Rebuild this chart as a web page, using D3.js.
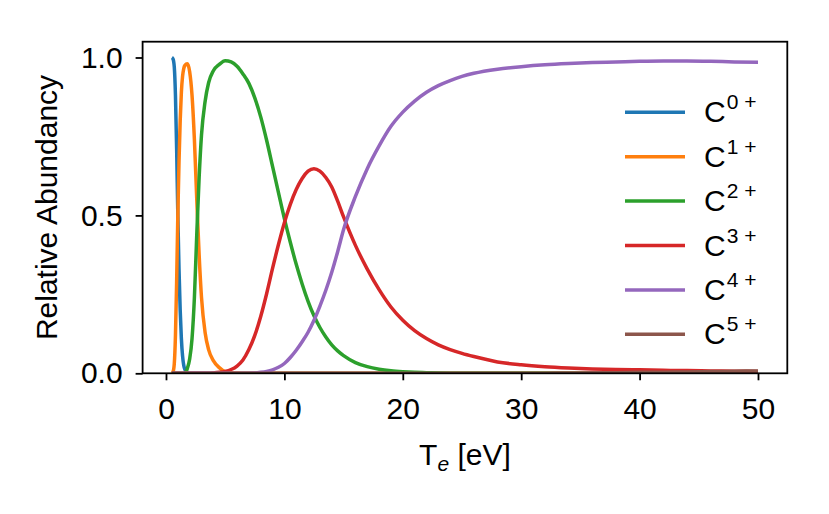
<!DOCTYPE html>
<meta charset="utf-8">
<style>
  body { margin: 0; background: #fff; }
  text { font-family: "Liberation Sans", Arial, sans-serif; fill: #000; }
</style>
<body>
<script src="https://cdn.jsdelivr.net/npm/d3@7"></script>
<script>

// electron temperature grid [eV]
var te = [0.5, 0.6, 0.7, 0.8, 0.9, 1.0, 1.1, 1.2, 1.3, 1.4,
          1.5, 1.6, 1.8, 2.0, 2.2, 2.4, 2.6, 2.8, 3.0, 3.3,
          3.6, 4.0, 4.5, 5.0, 5.5, 6, 6.5, 7, 7.5, 8,
          8.5, 9, 9.5, 10, 10.5, 11, 11.5, 12, 12.5, 13,
          13.5, 14, 14.5, 15, 16, 17, 18, 19, 20, 21,
          22, 23, 24, 25, 26, 28, 30, 32, 34, 36,
          38, 40, 42, 44, 46, 48, 50];

// relative abundance of each charge state
var c0 = [1.0, 0.995, 0.97, 0.88, 0.71, 0.50, 0.33, 0.20, 0.11, 0.055,
          0.025, 0.012, 0.003, 0.0005, 0, 0, 0, 0, 0, 0,
          0, 0, 0, 0, 0, 0, 0, 0, 0, 0,
          0, 0, 0, 0, 0, 0, 0, 0, 0, 0,
          0, 0, 0, 0, 0, 0, 0, 0, 0, 0,
          0, 0, 0, 0, 0, 0, 0, 0, 0, 0,
          0, 0, 0, 0, 0, 0, 0];
var c1 = [0.0, 0.005, 0.03, 0.12, 0.29, 0.50, 0.67, 0.80, 0.89, 0.94,
          0.965, 0.975, 0.98, 0.955, 0.88, 0.74, 0.55, 0.375, 0.24, 0.13,
          0.075, 0.04, 0.018, 0.005, 0.002, 0.001, 0, 0, 0, 0,
          0, 0, 0, 0, 0, 0, 0, 0, 0, 0,
          0, 0, 0, 0, 0, 0, 0, 0, 0, 0,
          0, 0, 0, 0, 0, 0, 0, 0, 0, 0,
          0, 0, 0, 0, 0, 0, 0];
var c2 = [0, 0, 0, 0, 0, 0, 0, 0, 0, 0,
          0, 0, 0.015, 0.045, 0.11, 0.24, 0.44, 0.62, 0.755, 0.86,
          0.92, 0.958, 0.978, 0.99, 0.986, 0.972, 0.948, 0.918, 0.872, 0.812,
          0.738, 0.655, 0.572, 0.49, 0.415, 0.345, 0.283, 0.228, 0.182, 0.145,
          0.115, 0.09, 0.071, 0.056, 0.034, 0.021, 0.013, 0.008, 0.005, 0.003,
          0.002, 0.001, 0.0005, 0, 0, 0, 0, 0, 0, 0,
          0, 0, 0, 0, 0, 0, 0];
var c3 = [0, 0, 0, 0, 0, 0, 0, 0, 0, 0,
          0, 0, 0, 0, 0, 0, 0, 0, 0, 0,
          0, 0.001, 0.003, 0.006, 0.012, 0.023, 0.042, 0.075, 0.12, 0.18,
          0.252, 0.332, 0.408, 0.477, 0.535, 0.582, 0.617, 0.64, 0.648, 0.64,
          0.62, 0.59, 0.545, 0.495, 0.405, 0.33, 0.265, 0.21, 0.168, 0.135,
          0.11, 0.09, 0.075, 0.063, 0.053, 0.036, 0.027, 0.021, 0.017, 0.014,
          0.012, 0.011, 0.0095, 0.0085, 0.0075, 0.0068, 0.006];
var c4 = [0, 0, 0, 0, 0, 0, 0, 0, 0, 0,
          0, 0, 0, 0, 0, 0, 0, 0, 0, 0,
          0, 0, 0, 0, 0, 0, 0, 0.0005, 0.001, 0.003,
          0.006, 0.011, 0.019, 0.031, 0.05, 0.073, 0.10, 0.13, 0.168, 0.213,
          0.263, 0.32, 0.385, 0.455, 0.56, 0.648, 0.72, 0.782, 0.827, 0.862,
          0.89, 0.911, 0.927, 0.94, 0.95, 0.963, 0.971, 0.977, 0.981, 0.984,
          0.986, 0.988, 0.989, 0.989, 0.988, 0.986, 0.985];
var c5 = [0, 0, 0, 0, 0, 0, 0, 0, 0, 0,
          0, 0, 0, 0, 0, 0, 0, 0, 0, 0,
          0, 0, 0, 0, 0, 0, 0, 0, 0, 0,
          0, 0, 0, 0, 0, 0, 0, 0, 0, 0,
          0, 0, 0, 0, 0, 0, 0, 0, 0, 0,
          0, 0, 0, 0, 0, 0, 0, 0.0005, 0.001, 0.0015,
          0.002, 0.003, 0.0035, 0.0045, 0.0055, 0.0065, 0.0075];

var charges = ["0", "1", "2", "3", "4", "5"];
var colors = ["#1f77b4", "#ff7f0e", "#2ca02c", "#d62728", "#9467bd", "#8c564b"];
var xTicks = [0, 10, 20, 30, 40, 50];
var yTicks = [0.0, 0.5, 1.0];

var series = [c0, c1, c2, c3, c4, c5];

var width = 829, height = 514;
var pLeft = 142.6, pRight = 787.3, pTop = 41.7, pBottom = 373.3;
var fontSize = 30, supSize = 21;

var x = d3.scaleLinear().domain([-1.975, 52.475]).range([pLeft, pRight]);
var y = d3.scaleLinear().domain([0, 1.05]).range([pBottom, pTop]);

var svg = d3.select("body").append("svg")
            .attr("width", width)
            .attr("height", height);

svg.append("clipPath").attr("id", "plotclip")
   .append("rect")
   .attr("x", pLeft).attr("y", pTop)
   .attr("width", pRight - pLeft).attr("height", pBottom - pTop);

var line = d3.line()
             .x(function(d){ return x(d[0]); })
             .y(function(d){ return y(d[1]); })
             .curve(d3.curveMonotoneX);

svg.append("g")
   .attr("clip-path", "url(#plotclip)")
   .selectAll("path")
   .data(series)
   .enter()
   .append("path")
   .attr("fill", "none")
   .attr("stroke", function(d, i){ return colors[i]; })
   .attr("stroke-width", 3.5)
   .attr("stroke-linejoin", "round")
   .attr("d", function(vals){
      return line(te.map(function(t, k){ return [t, vals[k]]; }));
   });

// axes
var xAxis = svg.append("g")
   .attr("transform", "translate(0," + pBottom + ")")
   .call(d3.axisBottom(x).tickValues(xTicks).tickSize(7).tickPadding(17)
           .tickFormat(d3.format("d")));
var yAxis = svg.append("g")
   .attr("transform", "translate(" + pLeft + ",0)")
   .call(d3.axisLeft(y).tickValues(yTicks).tickSize(7).tickPadding(13)
           .tickFormat(d3.format(".1f")));

[xAxis, yAxis].forEach(function(a){
  a.select(".domain").remove();
  a.selectAll(".tick line").attr("stroke", "#000").attr("stroke-width", 1.8);
  a.selectAll(".tick text")
   .style("font-family", '"Liberation Sans", Arial, sans-serif')
   .style("font-size", fontSize + "px").attr("fill", "#000");
});

svg.append("rect")
   .attr("x", pLeft).attr("y", pTop)
   .attr("width", pRight - pLeft).attr("height", pBottom - pTop)
   .attr("fill", "none").attr("stroke", "#000").attr("stroke-width", 1.8);

// axis labels
var xl = svg.append("text")
   .attr("x", (pLeft + pRight) / 2).attr("y", 465)
   .attr("text-anchor", "middle")
   .style("font-size", fontSize + "px");
xl.append("tspan").text("T");
xl.append("tspan").attr("dy", 6).style("font-size", supSize + "px").style("font-style", "italic").text("e");
xl.append("tspan").attr("dy", -6).text(" [eV]");

svg.append("text")
   .attr("transform", "translate(57," + (pTop + pBottom) / 2 + ") rotate(-90)")
   .attr("text-anchor", "middle")
   .style("font-size", fontSize + "px")
   .text("Relative Abundancy");

// legend
var leg = svg.append("g").selectAll("g")
   .data(charges)
   .enter()
   .append("g")
   .attr("transform", function(d, i){ return "translate(625," + (112.3 + i * 44.4) + ")"; });

leg.append("line")
   .attr("x1", 0).attr("x2", 60)
   .attr("stroke", function(d, i){ return colors[i]; })
   .attr("stroke-width", 3.5);

var lt = leg.append("text")
   .attr("x", 79).attr("y", 10)
   .style("font-size", fontSize + "px");
lt.append("tspan").text("C");
lt.append("tspan").attr("dy", -13).attr("dx", 1).style("font-size", supSize + "px")
  .text(function(d){ return d; });
lt.append("tspan").attr("dx", 6).style("font-size", supSize + "px").text("+");

</script>
</body>
